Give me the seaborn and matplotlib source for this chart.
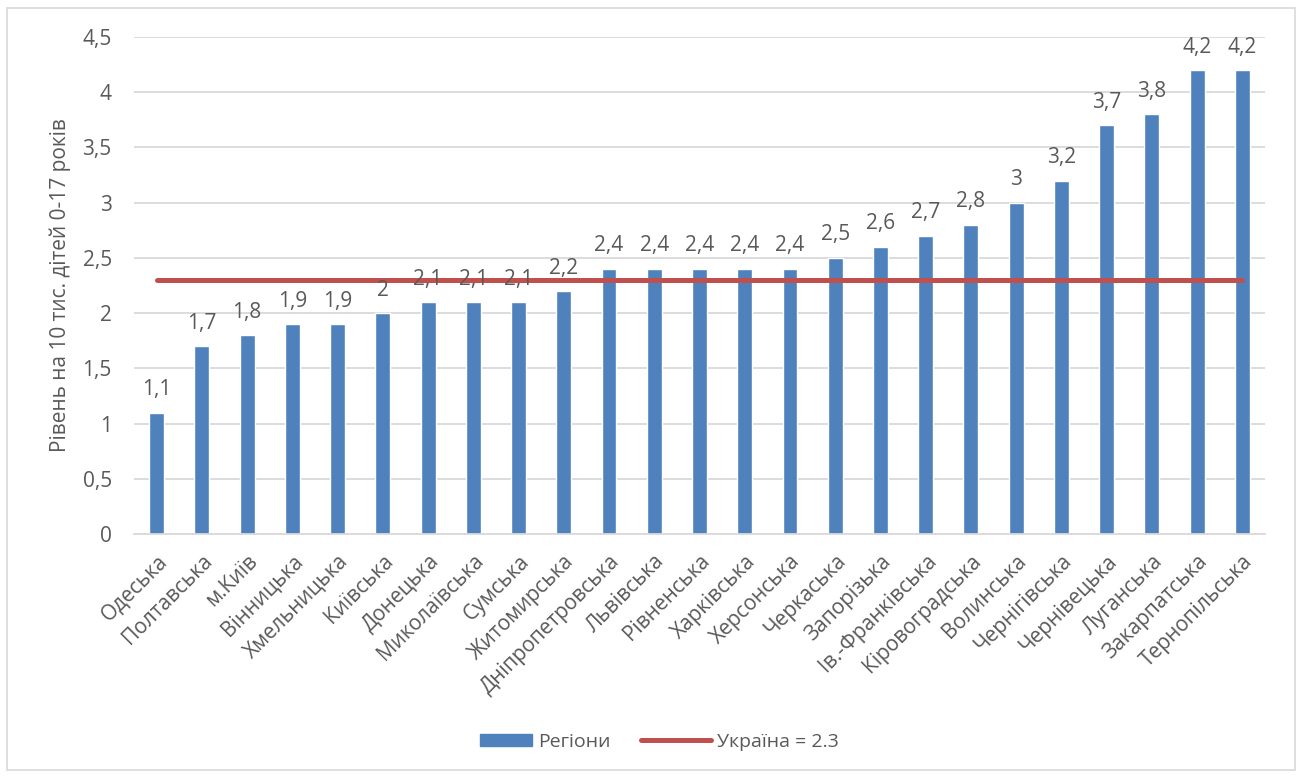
import matplotlib
matplotlib.use("Agg")
import matplotlib.pyplot as plt
import seaborn as sns
import numpy as np
from matplotlib.patches import Rectangle
from matplotlib.lines import Line2D
from matplotlib.legend_handler import HandlerPatch
from matplotlib.ticker import MultipleLocator, FuncFormatter

regions = ["Одеська", "Полтавська", "м.Київ", "Вінницька", "Хмельницька", "Київська",
           "Донецька", "Миколаївська", "Сумська", "Житомирська", "Дніпропетровська",
           "Львівська", "Рівненська", "Харківська", "Херсонська", "Черкаська",
           "Запорізька", "Ів.-Франківська", "Кіровоградська", "Волинська",
           "Чернігівська", "Чернівецька", "Луганська", "Закарпатська", "Тернопільська"]
values = [1.1, 1.7, 1.8, 1.9, 1.9, 2.0, 2.1, 2.1, 2.1, 2.2, 2.4, 2.4, 2.4, 2.4, 2.4,
          2.5, 2.6, 2.7, 2.8, 3.0, 3.2, 3.7, 3.8, 4.2, 4.2]
ukraine = 2.3
y_label = "Рівень на 10 тис. дітей 0-17 років"
bar_name = "Регіони"
line_name = "Україна = 2.3"

BLUE = "#4F81BD"
RED = "#C0504D"
TXT = "#595959"
GRID = "#D9D9D9"
FS = 15

sns.set_theme(style="white")
plt.rcParams["font.family"] = ["Open Sans", "DejaVu Sans"]

fig = plt.figure(figsize=(13.01, 7.76), dpi=100)
ax = fig.add_axes([134/1301, 1-534/776, (1265-134)/1301, (534-37)/776])

sns.barplot(x=regions, y=values, color=BLUE, width=0.33, ax=ax, saturation=1)
pos = np.arange(len(regions))
ax.plot(pos, [ukraine]*len(regions), color=RED, lw=3.6, solid_capstyle="round", zorder=3)

fmt = lambda v: (f"{v:g}").replace(".", ",")
for c in ax.containers:
    ax.bar_label(c, labels=[fmt(v) for v in values], padding=9, fontsize=FS, color=TXT)

ax.set_ylim(0, 4.5)
ax.set_xlim(-0.5, len(regions)-0.5)
ax.yaxis.set_major_locator(MultipleLocator(0.5))
ax.yaxis.set_major_formatter(FuncFormatter(lambda v, p: fmt(round(v, 1))))
ax.grid(axis="y", color=GRID, lw=1.3)
ax.set_axisbelow(True)
for s in ["top", "right", "left"]:
    ax.spines[s].set_visible(False)
ax.spines["bottom"].set_color(GRID)
ax.spines["bottom"].set_linewidth(1.3)
ax.tick_params(axis="both", length=0, colors=TXT, labelsize=FS)
ax.tick_params(axis="y", pad=16)
ax.tick_params(axis="x", pad=12)
plt.setp(ax.get_xticklabels(), rotation=45, ha="right", rotation_mode="anchor")
ax.set_xlabel("")
ax.set_ylabel(y_label, color=TXT, fontsize=FS, labelpad=8)


def narrow_rect(legend, orig_handle, xdescent, ydescent, width, height, fontsize):
    w = width * 0.74
    return Rectangle((width - w - xdescent, -ydescent + height * 0.05), w, height * 0.9)


handles = [Rectangle((0, 0), 1, 1, color=BLUE), Line2D([0], [0], color=RED, lw=3.6)]
fig.legend(handles, [bar_name, line_name], loc="center", bbox_to_anchor=(0.5, 1-742/776),
           ncol=2, frameon=False, fontsize=14, labelcolor=TXT, handlelength=3.6,
           handletextpad=0.3, columnspacing=1.6,
           handler_map={Rectangle: HandlerPatch(patch_func=narrow_rect)})

fig.patches.append(Rectangle((7/1301, 1-770/776), (1295-7)/1301, (770-8)/776,
                             transform=fig.transFigure, fill=False, ec=GRID, lw=1.2))
fig.savefig("out.png", dpi=100)
